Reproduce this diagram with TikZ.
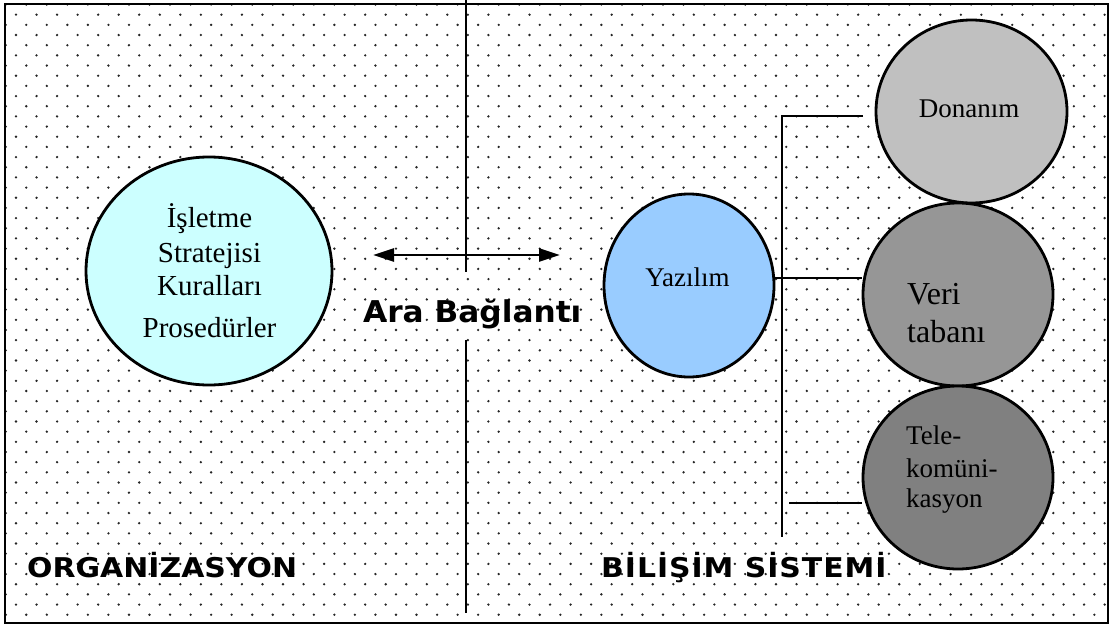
\documentclass[tikz,border=0pt]{standalone}
\usepackage{fontspec}
\setmainfont{Liberation Serif}
\newfontfamily\labelfont{DejaVu Sans}[FakeStretch=1.1]
\newfontfamily\widelabelfont{DejaVu Sans}[FakeStretch=1.1, LetterSpace=3.5]
\newfontfamily\linkfont{DejaVu Sans}[FakeStretch=1.04]
\usetikzlibrary{shapes.geometric,arrows.meta}

\definecolor{orgfill}{HTML}{CCFFFF}
\definecolor{swfill}{HTML}{99CCFF}
\definecolor{hwfill}{HTML}{C0C0C0}
\definecolor{dbfill}{HTML}{969696}
\definecolor{tcfill}{HTML}{808080}
\definecolor{dotcol}{HTML}{252525}

\tikzset{
  bubble/.style={ellipse, draw=black, line width=2.8pt, inner sep=0pt},
  conn/.style={draw=black, line width=2.6pt},
  divider/.style={draw=black, line width=2pt},
  orgtext/.style={inner sep=0pt, font=\fontsize{29}{29}\selectfont},
  bodytext/.style={inner sep=0pt, font=\fontsize{27}{27}\selectfont},
  bigtext/.style={inner sep=0pt, font=\fontsize{32}{32}\selectfont},
  sidelabel/.style={inner sep=0pt, font=\labelfont\bfseries\fontsize{27.2}{27.2}\selectfont},
  widelabel/.style={inner sep=0pt, font=\widelabelfont\bfseries\fontsize{27.2}{27.2}\selectfont},
  linklabel/.style={inner sep=0pt, font=\linkfont\bfseries\fontsize{30}{30}\selectfont},
}

\begin{document}
\begin{tikzpicture}[x=1pt,y=-1pt]
\useasboundingbox (0,0) rectangle (1110,626);

% dotted background, staggered rows
\begin{scope}
  \clip (6,5) rectangle (1107,622);
  \foreach \r [evaluate=\r as \yy using 4.53+\r*10.17,
               evaluate=\r as \xo using {ifthenelse(mod(\r,2)==1,16,5.73)}] in {0,...,61} {
    \foreach \c [evaluate=\c as \xx using \xo+\c*20.54] in {0,...,54} {
      \fill[dotcol] (\xx,\yy) circle (1.3pt);
    }
  }
\end{scope}

% outer frame
\draw[line width=2.6pt] (5,4) rectangle (1108,623);

% divider between the two halves
\coordinate (divtop) at (466,0);
\coordinate (divA) at (466,272);
\coordinate (divB) at (466,340);
\coordinate (divbot) at (466,613);
\draw[divider] (divtop) -- (divA);
\draw[divider] (divB) -- (divbot);

% two-way link arrow
\coordinate (arrL) at (373,255);
\coordinate (arrR) at (560,255);
\draw[line width=2.6pt, {Triangle[length=21pt,width=13pt]}-{Triangle[length=21pt,width=13pt]}] (arrL) -- (arrR);

% bubbles
\node[bubble, fill=orgfill, minimum width=246pt, minimum height=228pt] (org) at (209,271) {};
\node[bubble, fill=swfill, minimum width=170pt, minimum height=183pt] (yaz) at (689,285.5) {};
\node[bubble, fill=hwfill, minimum width=191pt, minimum height=183pt] (don) at (971.5,111.5) {};
\node[bubble, fill=dbfill, minimum width=190pt, minimum height=183pt] (veri) at (958,294.5) {};
\node[bubble, fill=tcfill, minimum width=190pt, minimum height=183pt] (tele) at (958,477.5) {};

% bus connecting the software to the other components
\coordinate (busTop) at (782,116);
\coordinate (busEnd) at (863,116);
\coordinate (busBot) at (782,537);
\coordinate (midY) at (800,278);
\coordinate (lowStart) at (789,503);
\draw[conn] (busEnd) -- (busTop) -- (busBot);
\draw[conn] (yaz.east |- midY) -- (veri.west |- midY);
\draw[conn] (lowStart) -- (tele.west |- lowStart);

% texts inside the bubbles
\node[orgtext, anchor=base] (o1) at (209.5,227) {İşletme};
\node[orgtext, anchor=base] (o2) at (209.5,262) {Stratejisi};
\node[orgtext, anchor=base] (o3) at (209.5,295) {Kuralları};
\node[orgtext, anchor=base] (o4) at (209.5,337) {Prosedürler};

\node[bodytext, anchor=base] (ytext) at (687.5,286) {Yazılım};
\node[bodytext, anchor=base] (dtext) at (969,117) {Donanım};

\node[bigtext, anchor=base west] (v1) at (907,304) {Veri};
\node[bigtext, anchor=base west] (v2) at (907,342) {tabanı};

\node[bodytext, anchor=base west] (t1) at (906,444) {Tele-};
\node[bodytext, anchor=base west] (t2) at (906,477) {komüni-};
\node[bodytext, anchor=base west] (t3) at (906,507) {kasyon};

% labels
\node[linklabel, anchor=base west] (link) at (363,322) {Ara Bağlantı};
\node[sidelabel, anchor=base west] (orgname) at (27,577) {ORGANİZASYON};
\node[widelabel, anchor=base west] (isname) at (601,577) {BİLİŞİM SİSTEMİ};
\end{tikzpicture}
\end{document}
